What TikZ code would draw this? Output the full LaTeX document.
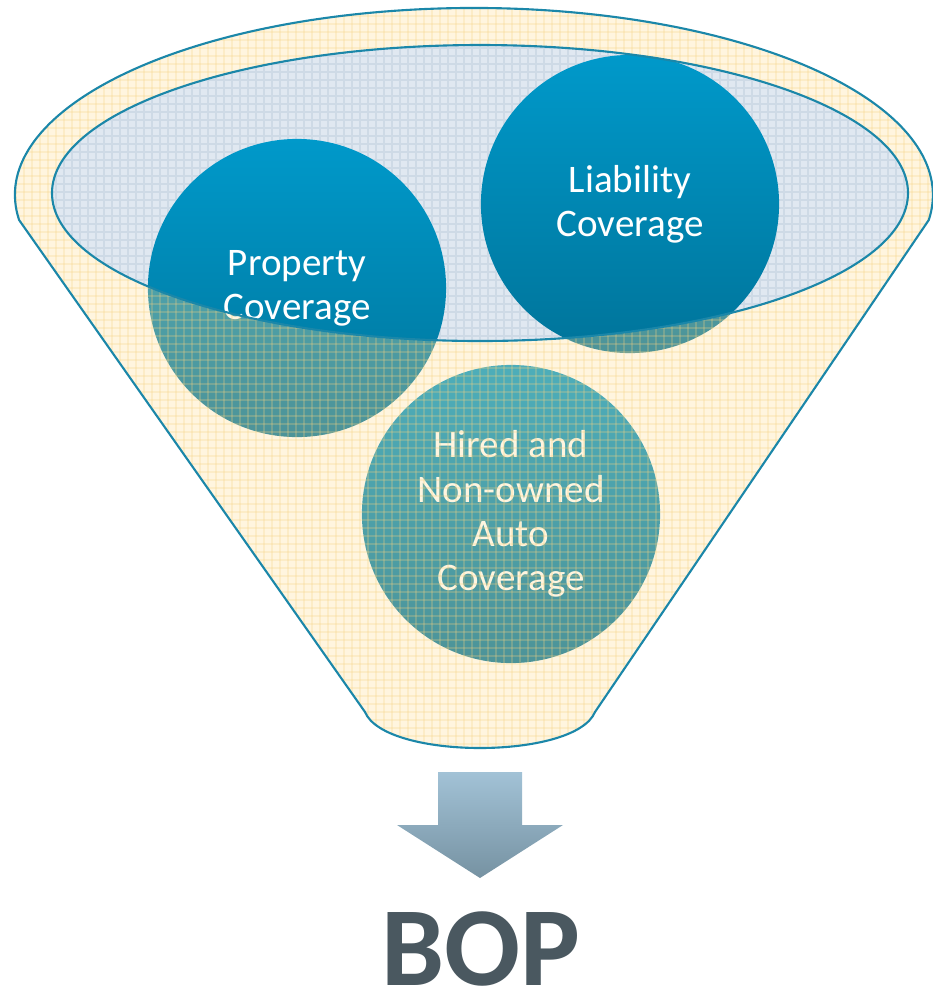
\documentclass[tikz,border=0pt]{standalone}
\usepackage{fontspec}
\setmainfont{Carlito}
\usetikzlibrary{positioning}

\definecolor{topblue}{RGB}{0,153,202}
\definecolor{lowblue}{RGB}{0,116,154}
\definecolor{rimblue}{RGB}{27,135,169}
\definecolor{mouth}{RGB}{224,232,241}
\definecolor{mouthgrid}{RGB}{206,218,230}
\definecolor{glass}{RGB}{255,222,150}
\definecolor{glassgrid}{RGB}{245,210,130}
\definecolor{arrowtop}{RGB}{162,194,214}
\definecolor{arrowlow}{RGB}{118,146,162}
\definecolor{bopgray}{RGB}{74,88,96}

% outline of the funnel body and of its opening
\newcommand\funnelbody{(19.1,220) arc[start angle=172.3, end angle=367.7, x radius=459, y radius=187]
  -- (595,712) .. controls (575,760) and (385,760) .. (365,712) -- cycle}
\newcommand\funnelmouth{(480,193) ellipse[x radius=428, y radius=148]}

\begin{document}
\begin{tikzpicture}[x=0.01cm,y=-0.01cm,
  cover/.style={circle,minimum size=2.98cm,inner sep=0pt,align=center,text=white,
    top color=topblue,bottom color=lowblue,font=\fontsize{11.1}{12.6}\selectfont},
  rim/.style={draw=rimblue,line width=0.6pt},
  gridline/.style={line width=0.35pt}]

	\useasboundingbox (0,0) rectangle (932,993);

	% opening of the funnel
	\fill[mouth] \funnelmouth;
	\begin{scope}
		\clip \funnelmouth;
		\foreach \x in {0,8,...,935} \draw[gridline,mouthgrid] (\x,40) -- (\x,345);
		\foreach \y in {40,48,...,345} \draw[gridline,mouthgrid] (50,\y) -- (910,\y);
	\end{scope}

	% the three coverages
	\node [cover] (property) at (297,288) {Property\\Coverage};
	\node [cover] (liability) at (630,204) {Liability\\Coverage};
	\node [cover] (hired) at (511,514) {Hired and\\Non-owned\\Auto\\Coverage};

	% front of the funnel, see-through
	\fill[glass,opacity=0.3,even odd rule] \funnelbody \funnelmouth;
	\begin{scope}[even odd rule]
		\clip \funnelbody \funnelmouth;
		\foreach \x in {0,8,...,935} \draw[gridline,glassgrid,opacity=0.25] (\x,0) -- (\x,760);
		\foreach \y in {0,8,...,760} \draw[gridline,glassgrid,opacity=0.25] (0,\y) -- (935,\y);
	\end{scope}

	\draw[rim] \funnelbody;
	\draw[rim] \funnelmouth;

	% result
	\shade[top color=arrowtop,bottom color=arrowlow]
		(438,772) -- (522,772) -- (522,825) -- (563,825) -- (480,878) -- (397,825) -- (438,825) -- cycle;
	\node [anchor=base,text=bopgray,font=\fontsize{32}{38}\selectfont\bfseries,inner sep=0pt] (bop) at (481,985) {BOP};

\end{tikzpicture}
\end{document}
